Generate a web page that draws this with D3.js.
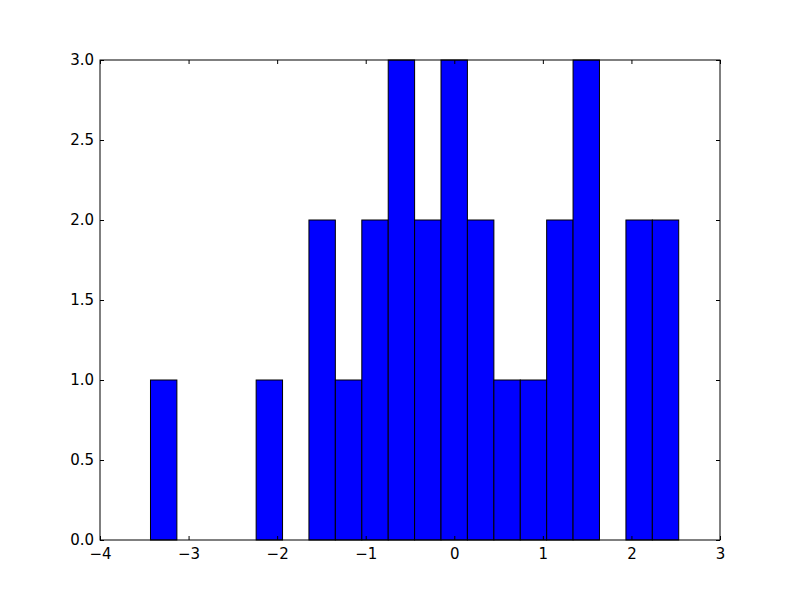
<!DOCTYPE html>
<html><head><meta charset="utf-8">
<script src="https://cdn.jsdelivr.net/npm/d3@7"></script>
<style>body{margin:0;background:#fff}svg{display:block}</style>
</head><body>
<svg id="c" width="800" height="600"></svg>
<script>
const binEdges = [-3.430, -3.132, -2.834, -2.535, -2.237, -1.939, -1.641, -1.343, -1.044, -0.746, -0.448, -0.150, 0.148, 0.447, 0.745, 1.043, 1.341, 1.639, 1.938, 2.236, 2.534];
const counts = [1, 0, 0, 0, 1, 0, 2, 1, 2, 3, 2, 3, 2, 1, 1, 2, 3, 0, 2, 2];
const xTicks = [-4, -3, -2, -1, 0, 1, 2, 3];
const yTicks = [0.0, 0.5, 1.0, 1.5, 2.0, 2.5, 3.0];

const svg = d3.select('#c');
const L = 100, R = 720, T = 60, B = 540;
const x = d3.scaleLinear().domain([-4, 3]).range([L, R]);
const y = d3.scaleLinear().domain([0, 3]).range([B, T]);
const fmtMinus = s => s.replace('-', '\u2212');

const bins = counts.map((c, i) => ({x0: binEdges[i], x1: binEdges[i + 1], c}));
svg.append('g').selectAll('rect').data(bins.filter(d => d.c > 0)).join('rect')
  .attr('x', d => x(d.x0)).attr('width', d => x(d.x1) - x(d.x0))
  .attr('y', d => y(d.c)).attr('height', d => y(0) - y(d.c))
  .attr('fill', '#0000ff').attr('stroke', '#000').attr('stroke-width', 1);

const font = 'DejaVu Sans';
const fs = 15;
function axis(gen, tx, ty, labels) {
  const g = svg.append('g').attr('transform', `translate(${tx},${ty})`).call(gen);
  g.select('.domain').remove();
  g.selectAll('line').attr('stroke', '#000');
  g.selectAll('text').attr('font-family', font).attr('font-size', fs).attr('fill', '#000');
  if (!labels) g.selectAll('text').remove();
  return g;
}
axis(d3.axisBottom(x).tickValues(xTicks).tickSize(-4).tickPadding(8.5).tickFormat(d => fmtMinus(String(d))), 0, B, true);
axis(d3.axisTop(x).tickValues(xTicks).tickSize(-4), 0, T, false);
axis(d3.axisLeft(y).tickValues(yTicks).tickSize(-4).tickPadding(6).tickFormat(d3.format('.1f')), L, 0, true);
axis(d3.axisRight(y).tickValues(yTicks).tickSize(-4), R, 0, false);

svg.append('rect').attr('x', L).attr('y', T).attr('width', R - L).attr('height', B - T)
  .attr('fill', 'none').attr('stroke', '#000').attr('stroke-width', 1);
</script>
</body></html>
